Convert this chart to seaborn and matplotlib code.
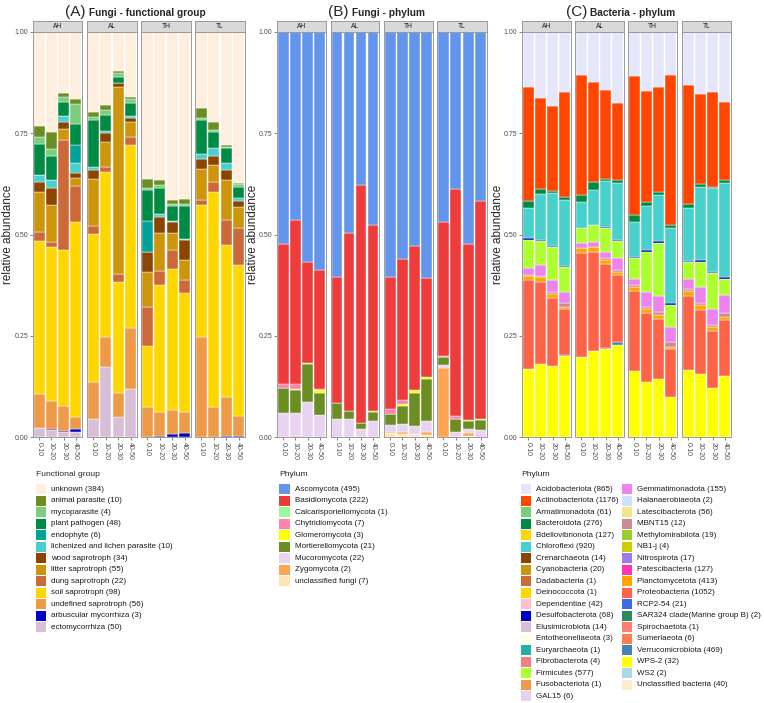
import numpy as np
import pandas as pd
import matplotlib.pyplot as plt
from matplotlib.patches import Rectangle
import seaborn as sns

# Figure size in pixels (dpi 100)
W, H = 764, 703
PANEL_TOP, PANEL_BOTTOM = 32, 437.3
STRIP_TOP = 21

SITES = ['AH', 'AL', 'TH', 'TL']
DEPTHS = ['0-10', '10-20', '20-30', '40-50']

# ---------------- (A) Fungi - functional group ----------------
# legend order = top of the stack first; 16 bars: AH 4 depths, AL, TH, TL
fg_labels = ['unknown (384)', 'animal parasite (10)', 'mycoparasite (4)', 'plant pathogen (48)',
             'endophyte (6)', 'lichenized and lichen parasite (10)', 'wood saprotroph (34)',
             'litter saprotroph (55)', 'dung saprotroph (22)', 'soil saprotroph (98)',
             'undefined saprotroph (56)', 'arbuscular mycorrhiza (3)', 'ectomycorrhiza (50)']
fg_colors = ['#FDEEDD', '#6B8E23', '#7CCD7C', '#008B45', '#00A29A', '#48D1CC', '#8B4500',
             '#CD950C', '#CD6839', '#FFD700', '#EE9A49', '#0000CD', '#D8BFD8']

fg_unknown = [.232, .246, .151, .165, .197, .179, .096, .160, .363, .364, .415, .413, .187, .222, .279, .372]
fg_animal = [.028, .043, .010, .013, .012, .013, .006, .005, .021, .014, .009, .011, .026, .020, .004, .004]
fg_myco = [.016, .016, .011, .050, .008, .013, .008, .011, .006, .008, .005, .005, .004, .005, .004, .006]
fg_plant = [.077, .060, .035, .052, .115, .039, .017, .031, .076, .064, .037, .082, .084, .038, .035, .028]
fg_endo = [0, 0, 0, .042, 0, 0, 0, 0, .076, 0, 0, 0, 0, 0, 0, 0]
fg_lichen = [.016, .019, .014, .027, .008, .004, 0, .004, .002, .007, .004, .003, .012, .021, .018, .007]
fg_wood = [.027, .042, .019, .010, .023, .024, .008, .010, .049, .038, .027, .049, .026, .022, .024, .014]
fg_litter = [.097, .093, .026, .021, .116, .060, .461, .037, .085, .094, .042, .050, .075, .041, .100, .052]
fg_dung = [.022, .012, .273, .089, .019, .013, .021, .021, .097, .034, .046, .030, .013, .027, .061, .092]
fg_soil = [.378, .379, .383, .480, .365, .407, .273, .451, .151, .315, .348, .295, .325, .530, .376, .372]
fg_undef = [.085, .069, .062, .031, .093, .075, .061, .150, .074, .059, .060, .052, .248, .074, .095, .051]
fg_arbus = [0, .003, .003, .007, 0, 0, 0, 0, 0, .003, .007, .010, 0, 0, .004, .002]
fg_ecto = [.022, .018, .013, .013, .044, .173, .049, .120, 0, 0, 0, 0, 0, 0, 0, 0]

# ---------------- (B) Fungi - phylum ----------------
fp_labels = ['Ascomycota (495)', 'Basidiomycota (222)', 'Calcarisporiellomycota (1)',
             'Chytridiomycota (7)', 'Glomeromycota (3)', 'Mortierellomycota (21)',
             'Mucoromycota (22)', 'Zygomycota (2)', 'unclassified fungi (7)']
fp_colors = ['#6495ED', '#EE3B3B', '#98FB98', '#FF82AB', '#FFFF00', '#6B8E23',
             '#E9D3F0', '#FFA54F', '#FFE4B5']

fp_asco = [.523, .465, .567, .587, .605, .497, .377, .475, .604, .560, .529, .606, .469, .388, .522, .417]
fp_basid = [.346, .404, .249, .295, .311, .437, .587, .459, .325, .348, .354, .244, .330, .559, .435, .537]
fp_calca = [0] * 16
fp_chytr = [.009, .012, 0, .001, 0, 0, 0, 0, .013, .011, 0, 0, .004, .009, 0, 0]
fp_glome = [0, .002, .003, .007, 0, 0, 0, .003, 0, .003, .008, .007, 0, 0, .004, .003]
fp_morti = [.061, .056, .095, .056, .040, .022, .016, .022, .028, .045, .081, .102, .019, .030, .019, .025]
fp_mucor = [.061, .058, .086, .054, .044, .044, .020, .041, .016, .021, .020, .027, .008, .014, .010, .018]
fp_zygo = [0, .003, 0, 0, 0, 0, 0, 0, .004, .004, 0, .008, .170, 0, .006, 0]
fp_uncl = [0, 0, 0, 0, 0, 0, 0, 0, .010, .008, .008, .006, 0, 0, .004, 0]

# ---------------- (C) Bacteria - phylum ----------------
bp_labels = ['Acidobacteriota (865)', 'Actinobacteriota (1176)', 'Armatimonadota (61)',
             'Bacteroidota (276)', 'Bdellovibrionota (127)', 'Chloroflexi (920)',
             'Crenarchaeota (14)', 'Cyanobacteria (20)', 'Dadabacteria (1)', 'Deinococcota (1)',
             'Dependentiae (42)', 'Desulfobacterota (68)', 'Elusimicrobiota (14)',
             'Entotheonellaeota (3)', 'Euryarchaeota (1)', 'Fibrobacterota (4)',
             'Firmicutes (577)', 'Fusobacteriota (1)', 'GAL15 (6)',
             'Gemmatimonadota (155)', 'Halanaerobiaeota (2)', 'Latescibacterota (56)',
             'MBNT15 (12)', 'Methylomirabilota (19)', 'NB1-j (4)', 'Nitrospirota (17)',
             'Patescibacteria (127)', 'Planctomycetota (413)', 'Proteobacteria (1052)',
             'RCP2-54 (21)', 'SAR324 clade(Marine group B) (2)', 'Spirochaetota (1)',
             'Sumerlaeota (6)', 'Verrucomicrobiota (469)', 'WPS-2 (32)', 'WS2 (2)',
             'Unclassified bacteria (40)']
bp_colors = ['#E6E6FA', '#FF4500', '#7CCD7C', '#008B45', '#FFD700', '#48D1CC',
             '#8B4500', '#CD950C', '#CD6839', '#FFD700', '#FFC0CB', '#0000CD', '#D8BFD8',
             '#FFFFE0', '#20B2AA', '#F08080', '#ADFF2F', '#EE9A49', '#E8D0F0',
             '#EE82EE', '#CAE1FF', '#F0E68C', '#CD8C95', '#9ACD32', '#CDCD00', '#9F79EE',
             '#FF34B3', '#FFA500', '#FF6347', '#4169E1', '#2E8B57', '#FA8072',
             '#FF7F50', '#4682B4', '#FFFF00', '#ADD8E6', '#FFEBCD']

bp_acido = [.136, .164, .183, .149, .106, .123, .143, .176, .109, .145, .136, .106, .131, .153, .149, .173]
bp_actino = [.280, .224, .209, .259, .296, .246, .220, .189, .343, .274, .260, .369, .293, .222, .233, .192]
bp_bactero = [.019, .012, .006, .006, .017, .021, .005, .008, .018, .010, .006, .009, .011, .007, .004, .008]
bp_chloro = [.074, .113, .130, .163, .064, .086, .114, .139, .086, .109, .114, .184, .129, .181, .206, .231]
bp_desulfo = [.003, .003, .003, .004, 0, 0, .002, .004, .002, .004, .004, .006, .003, .004, .003, .005]
bp_firmi = [.071, .059, .081, .060, .038, .041, .058, .042, .052, .099, .131, .053, .043, .063, .089, .040]
bp_gemma = [.017, .027, .029, .028, .013, .013, .016, .028, .014, .037, .041, .037, .025, .038, .039, .045]
bp_mbnt15 = [.002, .003, .006, .009, 0, 0, .005, .005, .006, .006, .006, .012, .004, .006, .004, .008]
bp_plancto = [.011, .013, .010, .006, .012, .014, .009, .009, .009, .010, .011, .007, .012, .012, .010, .009]
bp_proteo = [.219, .201, .166, .113, .257, .242, .207, .166, .197, .169, .147, .117, .183, .158, .142, .138]
bp_verruco = [0, 0, 0, .002, 0, 0, .002, .006, 0, 0, 0, 0, 0, 0, 0, 0]
bp_wps2 = [.168, .181, .177, .201, .197, .214, .219, .228, .164, .137, .144, .100, .166, .156, .121, .151]

fg_values = {fg_labels[0]: fg_unknown, fg_labels[1]: fg_animal, fg_labels[2]: fg_myco,
             fg_labels[3]: fg_plant, fg_labels[4]: fg_endo, fg_labels[5]: fg_lichen,
             fg_labels[6]: fg_wood, fg_labels[7]: fg_litter, fg_labels[8]: fg_dung,
             fg_labels[9]: fg_soil, fg_labels[10]: fg_undef, fg_labels[11]: fg_arbus,
             fg_labels[12]: fg_ecto}
fp_values = {fp_labels[0]: fp_asco, fp_labels[1]: fp_basid, fp_labels[2]: fp_calca,
             fp_labels[3]: fp_chytr, fp_labels[4]: fp_glome, fp_labels[5]: fp_morti,
             fp_labels[6]: fp_mucor, fp_labels[7]: fp_zygo, fp_labels[8]: fp_uncl}
bp_values = {'Acidobacteriota (865)': bp_acido, 'Actinobacteriota (1176)': bp_actino,
             'Bacteroidota (276)': bp_bactero, 'Chloroflexi (920)': bp_chloro,
             'Desulfobacterota (68)': bp_desulfo, 'Firmicutes (577)': bp_firmi,
             'Gemmatimonadota (155)': bp_gemma, 'MBNT15 (12)': bp_mbnt15,
             'Planctomycetota (413)': bp_plancto, 'Proteobacteria (1052)': bp_proteo,
             'Verrucomicrobiota (469)': bp_verruco, 'WPS-2 (32)': bp_wps2}

sns.set_theme(style='white')
plt.rcParams['font.family'] = ['Liberation Sans', 'DejaVu Sans']

fig = plt.figure(figsize=(W / 100, H / 100), dpi=100)

BORDER = '#9a9a9a'
TICK = '#4d4d4d'


def fx(px):
    return px / W


def fy(py):
    return 1 - py / H


def long_table(values):
    rows = []
    for group, vals in values.items():
        for i, v in enumerate(vals):
            if v > 0:
                rows.append((SITES[i // 4], i % 4, group, v))
    return pd.DataFrame(rows, columns=['site', 'depth', 'group', 'value'])


def draw_panel(facet_x, letter, title, title_x, labels, colors, values, ylab_x):
    df = long_table(values)
    palette = dict(zip(labels, colors))
    for k, site in enumerate(SITES):
        x0, x1 = facet_x[k]
        ax = fig.add_axes([fx(x0), fy(PANEL_BOTTOM), (x1 - x0) / W, (PANEL_BOTTOM - PANEL_TOP) / H])
        sub = df[df['site'] == site]
        order = [g for g in labels if g in set(sub['group'])]
        sns.histplot(data=sub, x='depth', weights='value', hue='group', hue_order=order,
                     palette=palette, multiple='stack', discrete=True, shrink=0.9,
                     edgecolor='white', linewidth=0.3, alpha=1, legend=False, ax=ax)
        ax.set_xlim(-0.5, 3.5)
        ax.set_ylim(0, 1)
        ax.set_xlabel('')
        ax.set_ylabel('')
        ax.grid(False)
        for sp in ax.spines.values():
            sp.set_visible(True)
            sp.set_color(BORDER)
            sp.set_linewidth(0.7)
        ax.set_xticks(range(4))
        ax.set_xticklabels(DEPTHS, rotation=270, fontsize=5, color=TICK)
        ax.set_yticks([0, 0.25, 0.5, 0.75, 1.0])
        if k == 0:
            ax.set_yticklabels(['0.00', '0.25', '0.50', '0.75', '1.00'], fontsize=5, color=TICK)
            ax.tick_params(axis='y', length=2, width=0.5, color=TICK, pad=1.5, left=True)
        else:
            ax.set_yticklabels([])
            ax.tick_params(axis='y', length=0)
        ax.tick_params(axis='x', length=2, width=0.5, color=TICK, pad=1.5, bottom=True)

        # facet strip
        sax = fig.add_axes([fx(x0), fy(PANEL_TOP), (x1 - x0) / W, (PANEL_TOP - STRIP_TOP) / H])
        sax.set_facecolor('#d9d9d9')
        sax.set_xticks([])
        sax.set_yticks([])
        for sp in sax.spines.values():
            sp.set_visible(True)
            sp.set_color(BORDER)
            sp.set_linewidth(0.7)
        sax.text(0.5, 0.5, site, ha='center', va='center', fontsize=4.8, color='#1a1a1a',
                 transform=sax.transAxes)

    fig.text(fx(title_x), fy(16), letter, fontsize=11, va='baseline', ha='left')
    fig.text(fx(title_x + 24), fy(16), title, fontsize=7.3, fontweight='bold',
             va='baseline', ha='left')
    fig.text(fx(ylab_x), fy((PANEL_TOP + PANEL_BOTTOM) / 2), 'relative abundance',
             rotation=90, fontsize=8.5, va='center', ha='center')


def draw_legend(x, title, labels, colors, per_col=19, col_dx=100.7):
    fig.text(fx(x), fy(475), title, fontsize=6.1, va='center', ha='left')
    for i, (lab, col) in enumerate(zip(labels, colors)):
        c, r = divmod(i, per_col)
        kx = x + c * col_dx
        ky = 489.3 + r * 11.5
        fig.patches.append(Rectangle((fx(kx), fy(ky + 5)), 10.3 / W, 10 / H,
                                     transform=fig.transFigure, facecolor=col,
                                     edgecolor='none'))
        fig.text(fx(kx + 15.3), fy(ky), lab, fontsize=5.8, va='center', ha='left',
                 color='#1a1a1a')


draw_panel([(33, 82), (87, 137), (141, 191), (195, 245)], '(A)', 'Fungi - functional group',
           65, fg_labels, fg_colors, fg_values, 8)
draw_panel([(277, 326), (331, 379), (384, 433), (437, 487)], '(B)', 'Fungi - phylum',
           328, fp_labels, fp_colors, fp_values, 253)
draw_panel([(522, 571), (575, 624), (628, 677), (682, 731)], '(C)', 'Bacteria - phylum',
           566, bp_labels, bp_colors, bp_values, 498)

draw_legend(35.7, 'Functional group', fg_labels, fg_colors)
draw_legend(279.3, 'Phylum', fp_labels, fp_colors)
draw_legend(521, 'Phylum', bp_labels, bp_colors, per_col=19, col_dx=100.7)

fig.savefig('out.png', dpi=100)
